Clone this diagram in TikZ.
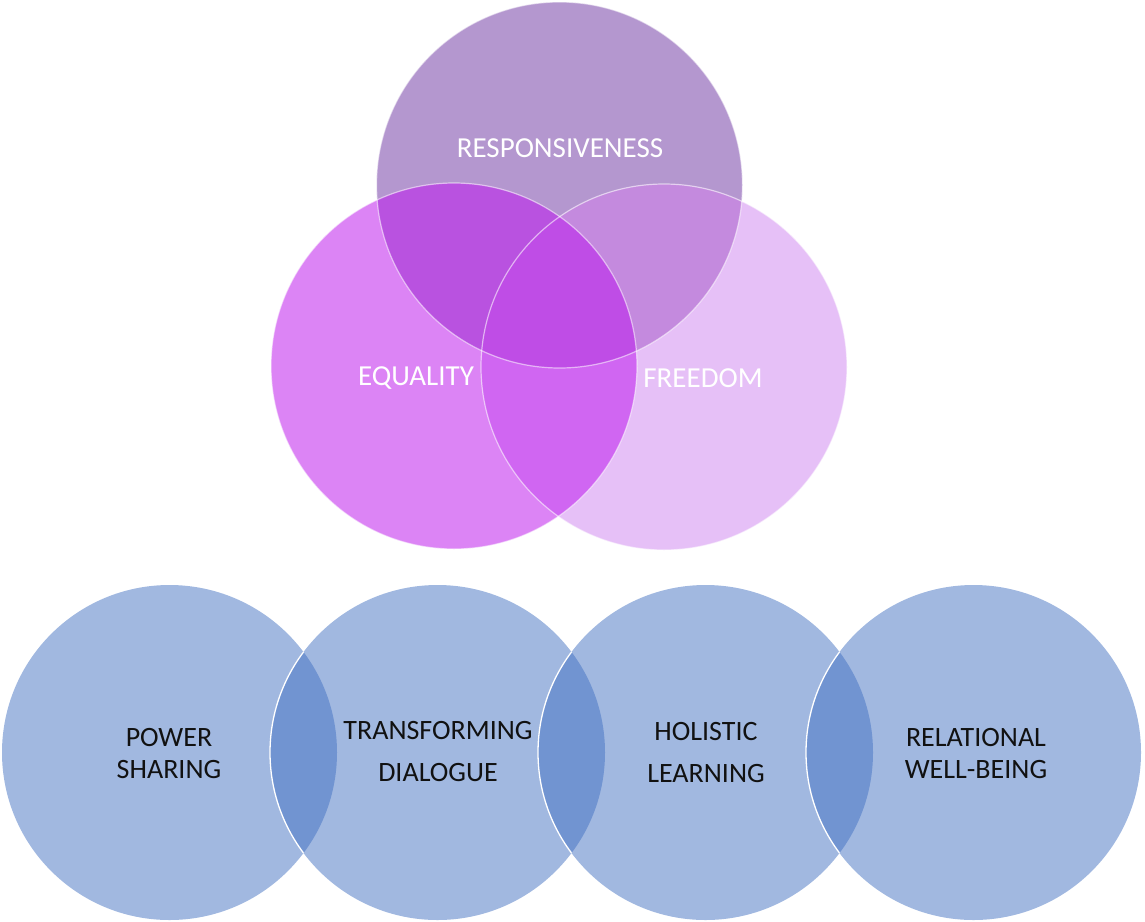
\documentclass[tikz,border=0pt]{standalone}
\usepackage{fontspec}
\setmainfont{Carlito}
\definecolor{cR}{HTML}{B497CF}
\definecolor{cE}{HTML}{DC84F5}
\definecolor{cF}{HTML}{E6C0F7}
\definecolor{cER}{HTML}{B952E0}
\definecolor{cRF}{HTML}{C48ADE}
\definecolor{cEF}{HTML}{D066F2}
\definecolor{cERF}{HTML}{BF4DE6}
\definecolor{cB}{HTML}{A1B8E0}
\definecolor{cL}{HTML}{7194D1}
\definecolor{ink}{HTML}{111111}
\begin{document}
\begin{tikzpicture}[x=1pt,y=-1pt,
  toptext/.style={text=white,font=\fontsize{29}{34}\selectfont,inner sep=0pt,anchor=center},
  bottext/.style={text=ink,align=center,inner sep=0pt,anchor=center},
  rim/.style={draw=white,draw opacity=0.55,line width=1.2pt},
  lensedge/.style={draw=white,line width=1.3pt}]
\useasboundingbox (0,0) rectangle (1145,921);
% centres
\coordinate (R) at (559.5,185);
\coordinate (E) at (454,366);
\coordinate (F) at (664,367);
\def\rt{183pt}
% top Venn: solid region fills
\fill[cR] (R) circle[radius=\rt];
\fill[cE] (E) circle[radius=\rt];
\fill[cF] (F) circle[radius=\rt];
\begin{scope}\clip (E) circle[radius=\rt]; \fill[cER] (R) circle[radius=\rt];\end{scope}
\begin{scope}\clip (R) circle[radius=\rt]; \fill[cRF] (F) circle[radius=\rt];\end{scope}
\begin{scope}\clip (E) circle[radius=\rt]; \fill[cEF] (F) circle[radius=\rt];\end{scope}
\begin{scope}\clip (E) circle[radius=\rt]; \clip (R) circle[radius=\rt]; \fill[cERF] (F) circle[radius=\rt];\end{scope}
\path[rim] (R) circle[radius=\rt];
\path[rim] (E) circle[radius=\rt];
\path[rim] (F) circle[radius=\rt];
\node[toptext] (tR) at (560,148) {RESPONSIVENESS};
\node[toptext] (tE) at (416,378) {EQUALITY};
\node[toptext] (tF) at (703,378) {FREEDOM};
% bottom chain
\coordinate (B1) at (169.5,752.5);
\coordinate (B2) at (437.5,752.5);
\coordinate (B3) at (705.5,752.5);
\coordinate (B4) at (973.5,752.5);
\def\rb{167.5pt}
\foreach \c in {B1,B2,B3,B4} \fill[cB] (\c) circle[radius=\rb];
\foreach \a/\b in {B1/B2,B2/B3,B3/B4}{
  \begin{scope}\clip (\a) circle[radius=\rb]; \fill[cL] (\b) circle[radius=\rb];\end{scope}
  \begin{scope}\clip (\a) circle[radius=\rb]; \path[lensedge] (\b) circle[radius=\rb];\end{scope}
}
\node[bottext,font=\fontsize{28}{32}\selectfont] (t1) at (169,753) {POWER\\SHARING};
\node[bottext,font=\fontsize{28}{42}\selectfont] (t2) at (438,752) {TRANSFORMING\\DIALOGUE};
\node[bottext,font=\fontsize{28}{42}\selectfont] (t3) at (706,752) {HOLISTIC\\LEARNING};
\node[bottext,font=\fontsize{28}{32}\selectfont] (t4) at (976,753) {RELATIONAL\\WELL-BEING};
\end{tikzpicture}
\end{document}
